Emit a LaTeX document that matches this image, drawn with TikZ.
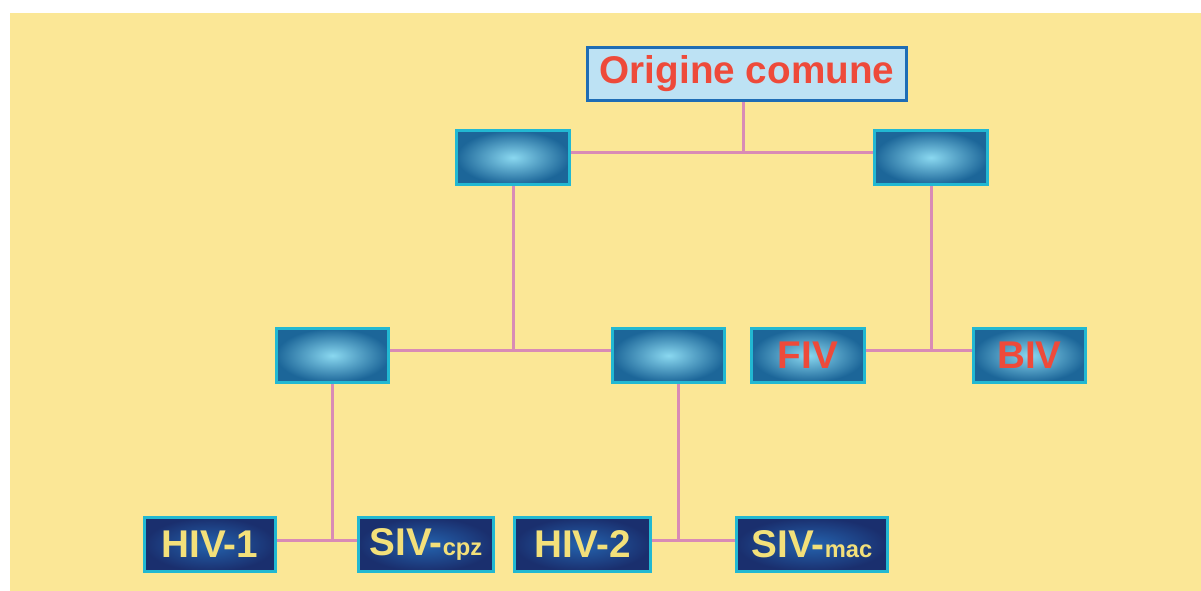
\documentclass[tikz,border=0pt]{standalone}
\usepackage{fontspec}
\setmainfont{Liberation Sans}
\usepackage{tikz}
\usepackage{xcolor}
\definecolor{bgyellow}{HTML}{FBE796}
\definecolor{linkpink}{HTML}{D98BB5}
\definecolor{boxedge}{HTML}{22B8D2}
\definecolor{boxdark}{HTML}{1C6699}
\definecolor{boxlight}{HTML}{8AD8F0}
\definecolor{navydark}{HTML}{1A2F6E}
\definecolor{navymid}{HTML}{2463AE}
\definecolor{textred}{HTML}{EE4A3A}
\definecolor{textyellow}{HTML}{F3E07A}
\definecolor{topfill}{HTML}{BDE2F4}
\definecolor{topedge}{HTML}{1E6DB5}
\newcommand{\bigname}[1]{\fontsize{22}{22}\selectfont\bfseries #1}
\newcommand{\subname}[1]{{\fontsize{13.5}{13.5}\selectfont\bfseries #1}}
\tikzset{
  link/.style={draw=linkpink, line width=0.06cm},
  rootbox/.style={draw=topedge, line width=0.06cm, fill=topfill, minimum width=6.38cm, minimum height=1.06cm, inner sep=0pt, text=textred},
  ancbox/.style={draw=boxedge, line width=0.06cm, inner color=boxlight, outer color=boxdark, minimum width=2.26cm, minimum height=1.08cm, inner sep=0pt, text=textred},
  virbox/.style={draw=boxedge, line width=0.06cm, inner color=navymid, outer color=navydark, minimum height=1.08cm, inner sep=0pt, text=textyellow}
}
\begin{document}
\begin{tikzpicture}[x=0.02cm,y=-0.02cm]
    \useasboundingbox (0,0) rectangle (1201,591);
    \fill[bgyellow] (10,13) rectangle (1201,591);
    \node[rootbox] (root) at (747,74) {\bigname{Origine comune}};
    \node[ancbox] (a1) at (513,157.5) {};
    \node[ancbox] (a2) at (931,157.5) {};
    \node[ancbox] (b1) at (332.5,355.5) {};
    \node[ancbox] (b2) at (668.5,355.5) {};
    \node[ancbox] (fiv) at (808,355.5) {\bigname{FIV}};
    \node[ancbox] (biv) at (1029.5,355.5) {\bigname{BIV}};
    \node[virbox, minimum width=2.62cm] (hiv1) at (210,544.5) {\bigname{HIV-1}};
    \node[virbox, minimum width=2.70cm] (sivcpz) at (426,544.5) {\bigname{SIV-}\subname{cpz}};
    \node[virbox, minimum width=2.72cm] (hiv2) at (582.5,544.5) {\bigname{HIV-2}};
    \node[virbox, minimum width=3.02cm] (sivmac) at (812,544.5) {\bigname{SIV-}\subname{mac}};
    \draw[link] ([yshift=0.1cm]a1.east) -- ([yshift=0.1cm]a2.west);
    \draw[link] ([xshift=-0.08cm]root.south) -- ([xshift=-0.08cm,yshift=0.1cm]root.south |- a1.east);
    \draw[link] ([yshift=0.1cm]b1.east) -- ([yshift=0.1cm]b2.west);
    \draw[link] (a1.south) -- ([yshift=0.1cm]a1.south |- b1.east);
    \draw[link] ([yshift=0.1cm]fiv.east) -- ([yshift=0.1cm]biv.west);
    \draw[link] (a2.south) -- ([yshift=0.1cm]a2.south |- fiv.east);
    \draw[link] ([yshift=0.08cm]hiv1.east) -- ([yshift=0.08cm]sivcpz.west);
    \draw[link] (b1.south) -- ([yshift=0.08cm]b1.south |- hiv1.east);
    \draw[link] ([yshift=0.08cm]hiv2.east) -- ([yshift=0.08cm]sivmac.west);
    \draw[link] ([xshift=0.19cm]b2.south) -- ([xshift=0.19cm,yshift=0.08cm]b2.south |- hiv2.east);
\end{tikzpicture}
\end{document}
